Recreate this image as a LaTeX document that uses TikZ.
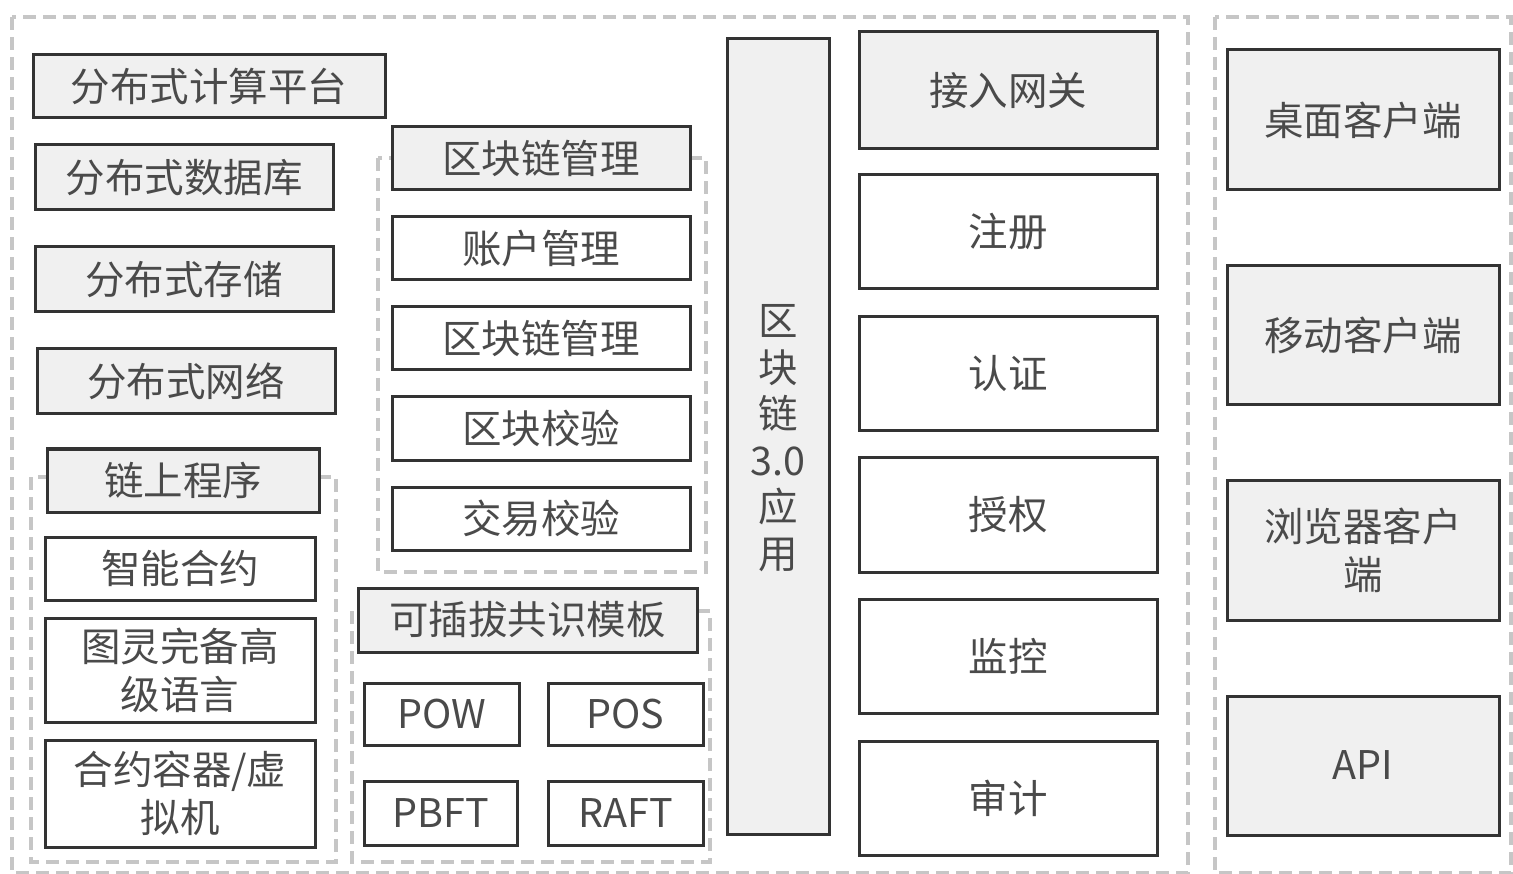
\documentclass[tikz,border=0pt]{standalone}
\usepackage{fontspec}
\setmainfont{Noto Sans CJK SC}
\definecolor{boxgray}{HTML}{F0F0F0}
\definecolor{edge}{HTML}{333333}
\definecolor{dashgray}{HTML}{C6C6C6}
\definecolor{txt}{HTML}{4A4A4A}
\tikzset{
  base/.style={draw=edge, line width=3pt, text=txt, align=center, inner sep=0pt,
    font=\fontsize{39.5}{48}\selectfont},
  graybox/.style={base, fill=boxgray},
  whitebox/.style={base, fill=white},
  dashbox/.style={draw=dashgray, line width=3.5pt, dash pattern=on 13pt off 7pt},
}
\newcommand\bx[7]{\node[#2, minimum width={(#5-#3)*1pt}, minimum height={(#6-#4)*1pt}] (#1) at ({(#3+#5)/2},{(#4+#6)/2}) {#7};}
\begin{document}
\begin{tikzpicture}[x=1pt,y=-1pt]
\useasboundingbox (0,0) rectangle (1513,874);
% outer dashed frames
\draw[dashbox] (12,17) rectangle (1188,873);
\draw[dashbox] (1215,17) rectangle (1511,873);
% left column
\bx{calc}{graybox}{33}{55}{385}{118}{分布式计算平台}
\bx{db}{graybox}{35}{145}{333}{210}{分布式数据库}
\bx{store}{graybox}{35}{247}{333}{312}{分布式存储}
\bx{net}{graybox}{37}{349}{335}{414}{分布式网络}
% on-chain program group
\draw[dashbox] (31,477) rectangle (336,862);
\bx{chain}{graybox}{47}{449}{319}{512}{链上程序}
\bx{smart}{whitebox}{45}{537}{315}{600}{智能合约}
\bx{turing}{whitebox}{45}{618}{315}{722}{图灵完备高\\级语言}
\bx{vm}{whitebox}{45}{740}{315}{847}{合约容器/虚\\拟机}
% blockchain management group
\draw[dashbox] (378,158) rectangle (706,572);
\bx{bcm}{graybox}{392}{127}{690}{190}{区块链管理}
\bx{acct}{whitebox}{392}{217}{690}{280}{账户管理}
\bx{bcm2}{whitebox}{392}{307}{690}{370}{区块链管理}
\bx{blk}{whitebox}{392}{397}{690}{460}{区块校验}
\bx{tx}{whitebox}{392}{487}{690}{550}{交易校验}
% consensus group
\draw[dashbox] (352,611) rectangle (710,862);
\bx{cons}{graybox}{358}{588}{697}{652}{可插拔共识模板}
\bx{pow}{whitebox}{364}{683}{519}{745}{POW}
\bx{pos}{whitebox}{548}{683}{703}{745}{POS}
\bx{pbft}{whitebox}{364}{781}{517}{845}{PBFT}
\bx{raft}{whitebox}{548}{781}{703}{845}{RAFT}
% vertical application bar
\bx{app}{graybox}{727}{39}{829}{834}{}
\node[text=txt, align=center, inner sep=0pt, font=\fontsize{39.5}{46.5}\selectfont] (apptxt) at (778,438) {区\\块\\链\\3.0\\应\\用};
% service column
\bx{gw}{graybox}{859}{32}{1157}{149}{接入网关}
\bx{reg}{whitebox}{859}{175}{1157}{289}{注册}
\bx{auth}{whitebox}{859}{317}{1157}{431}{认证}
\bx{authz}{whitebox}{859}{457}{1157}{572}{授权}
\bx{mon}{whitebox}{859}{599}{1157}{713}{监控}
\bx{audit}{whitebox}{859}{741}{1157}{855}{审计}
% client column
\bx{desk}{graybox}{1227}{50}{1499}{190}{桌面客户端}
\bx{mob}{graybox}{1227}{266}{1499}{405}{移动客户端}
\bx{brow}{graybox}{1227}{480}{1499}{620}{浏览器客户\\端}
\bx{api}{graybox}{1227}{696}{1499}{835}{API}
\end{tikzpicture}
\end{document}
